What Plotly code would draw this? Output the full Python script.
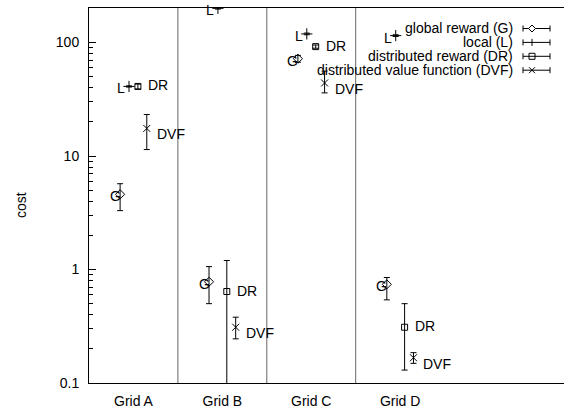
import numpy as np
import plotly.graph_objects as go

# ---------------- data ----------------
categories = ["Grid A", "Grid B", "Grid C", "Grid D"]
series_names = ["global reward (G)", "local (L)", "distributed reward (DR)",
                "distributed value function (DVF)"]
series_tags = ["G", "L", "DR", "DVF"]

g_mean = [4.6, 0.78, 72, 0.74]
g_low = [3.3, 0.50, 67, 0.54]
g_high = [5.7, 1.06, 77, 0.85]

l_mean = [41, 200, 119, 115]
l_low = [40.5, 197, 117, 113]
l_high = [41.5, 203, 121, 117]

dr_mean = [41, 0.64, 92, 0.31]
dr_low = [39, 0.02, 89, 0.13]
dr_high = [43, 1.2, 95, 0.50]

dvf_mean = [17.5, 0.31, 44, 0.167]
dvf_low = [11.4, 0.245, 36, 0.149]
dvf_high = [23.2, 0.38, 56, 0.185]

y_tick_vals = [0.1, 1, 10, 100]
y_tick_text = ["0.1", "1", "10", "100"]

# ---------------- layout constants ----------------
W, H = 564, 408
ML, MR, MT, MB = 89, 0, 8, 25
PW, PH = W - ML - MR, H - MT - MB
FONT = "Liberation Sans, Arial, Helvetica, sans-serif"

def px_x(x):
    return (x - ML) / PW

def px_y(y):
    return (H - MB - y) / PH

series = [
    dict(mean=g_mean, low=g_low, high=g_high, off=-0.15, sym="diamond-open", size=7,
         lab=dict(xanchor="center", xshift=-5, yshift=-2)),
    dict(mean=l_mean, low=l_low, high=l_high, off=-0.05, sym="cross-thin-open", size=8,
         lab=dict(xanchor="right", xshift=-2, yshift=-2)),
    dict(mean=dr_mean, low=dr_low, high=dr_high, off=0.05, sym="square-open", size=6,
         lab=dict(xanchor="left", xshift=8, yshift=1)),
    dict(mean=dvf_mean, low=dvf_low, high=dvf_high, off=0.15, sym="x-thin-open", size=7,
         lab=dict(xanchor="left", xshift=8, yshift=-6)),
]

base = np.arange(1, len(categories) + 1)
fig = go.Figure()
annotations = []

for s, tag in zip(series, series_tags):
    m = np.array(s["mean"], dtype=float)
    lo = np.array(s["low"], dtype=float)
    hi = np.array(s["high"], dtype=float)
    xs = base + s["off"]
    fig.add_trace(go.Scatter(
        x=xs, y=m, mode="markers", showlegend=False, hoverinfo="skip",
        marker=dict(symbol=s["sym"], size=s["size"], color="black",
                    line=dict(color="black", width=1)),
        error_y=dict(type="data", symmetric=False, array=hi - m, arrayminus=m - lo,
                     color="black", thickness=1, width=3),
    ))
    for xv, yv in zip(xs, m):
        annotations.append(dict(
            x=xv, y=np.log10(yv), xref="x", yref="y", text=tag, showarrow=False,
            yanchor="middle", font=dict(size=14, color="black", family=FONT),
            **s["lab"]))

# group separators
shapes = []
for b in base[:-1]:
    shapes.append(dict(type="line", xref="x", yref="paper", x0=b + 0.5, x1=b + 0.5,
                       y0=0, y1=1, line=dict(color="#666666", width=1)))

# manual gnuplot-style key (text right, sample on the right)
key_text_right = 515
key_x0, key_x1, key_mx = 523, 550, 532
for k, name in enumerate(series_names):
    yp = 28.5 + 13.9 * k
    annotations.append(dict(x=px_x(key_text_right), y=px_y(yp), xref="paper", yref="paper",
                            text=name, showarrow=False, xanchor="right", yanchor="middle",
                            font=dict(size=14, color="black", family=FONT)))
    ln = dict(color="black", width=1)
    shapes.append(dict(type="line", xref="paper", yref="paper", x0=px_x(key_x0), x1=px_x(key_x1),
                       y0=px_y(yp), y1=px_y(yp), line=ln))
    for cx in (key_x0, key_x1):
        shapes.append(dict(type="line", xref="paper", yref="paper", x0=px_x(cx), x1=px_x(cx),
                           y0=px_y(yp - 3), y1=px_y(yp + 3), line=ln))
    r = 3.5
    if k == 0:
        path = "M {} {} L {} {} L {} {} L {} {} Z".format(
            px_x(key_mx - r), px_y(yp), px_x(key_mx), px_y(yp - r),
            px_x(key_mx + r), px_y(yp), px_x(key_mx), px_y(yp + r))
        shapes.append(dict(type="path", xref="paper", yref="paper", path=path,
                           line=ln, fillcolor="white"))
    elif k == 1:
        shapes.append(dict(type="line", xref="paper", yref="paper", x0=px_x(key_mx), x1=px_x(key_mx),
                           y0=px_y(yp - r), y1=px_y(yp + r), line=ln))
    elif k == 2:
        shapes.append(dict(type="rect", xref="paper", yref="paper", x0=px_x(key_mx - 3), x1=px_x(key_mx + 3),
                           y0=px_y(yp - 3), y1=px_y(yp + 3), line=ln, fillcolor="rgba(0,0,0,0)"))
    else:
        shapes.append(dict(type="line", xref="paper", yref="paper", x0=px_x(key_mx - 3), x1=px_x(key_mx + 3),
                           y0=px_y(yp - 3), y1=px_y(yp + 3), line=ln))
        shapes.append(dict(type="line", xref="paper", yref="paper", x0=px_x(key_mx - 3), x1=px_x(key_mx + 3),
                           y0=px_y(yp + 3), y1=px_y(yp - 3), line=ln))

# y-axis title
annotations.append(dict(x=px_x(21), y=px_y(205), xref="paper", yref="paper", text="cost",
                        showarrow=False, textangle=-90, xanchor="center", yanchor="middle",
                        font=dict(size=14, color="black", family=FONT)))

minor_vals = [m * 10.0 ** e for e in (-1, 0, 1) for m in range(2, 10)] + [200]

fig.update_layout(
    width=W, height=H, margin=dict(l=ML, r=MR, t=MT, b=MB, pad=0, autoexpand=False),
    paper_bgcolor="white", plot_bgcolor="white",
    font=dict(family=FONT, size=14, color="black"),
    showlegend=False,
    xaxis=dict(range=[0.5, 0.5 + PW / 88.9], tickmode="array", tickvals=list(base),
               ticktext=categories, ticks="", showgrid=False, zeroline=False,
               showline=True, linecolor="black", linewidth=1, mirror=True,
               ticklabelstandoff=5, tickfont=dict(size=14), automargin=False),
    yaxis=dict(type="log", range=[-1, -1 + PH / 113.5], tickmode="array",
               tickvals=y_tick_vals, ticktext=y_tick_text, ticks="inside", ticklen=7,
               tickcolor="black", showgrid=False, zeroline=False, showline=True,
               linecolor="black", linewidth=1, mirror=False, ticklabelstandoff=6,
               tickfont=dict(size=14), automargin=False,
               minor=dict(tickmode="array", tickvals=minor_vals, ticks="inside",
                          ticklen=4, tickcolor="black", showgrid=False)),
    shapes=shapes, annotations=annotations,
)

fig.write_html("out.html", config={"displayModeBar": False},
               post_script="document.body.style.margin='0px';document.body.style.padding='0px';")
